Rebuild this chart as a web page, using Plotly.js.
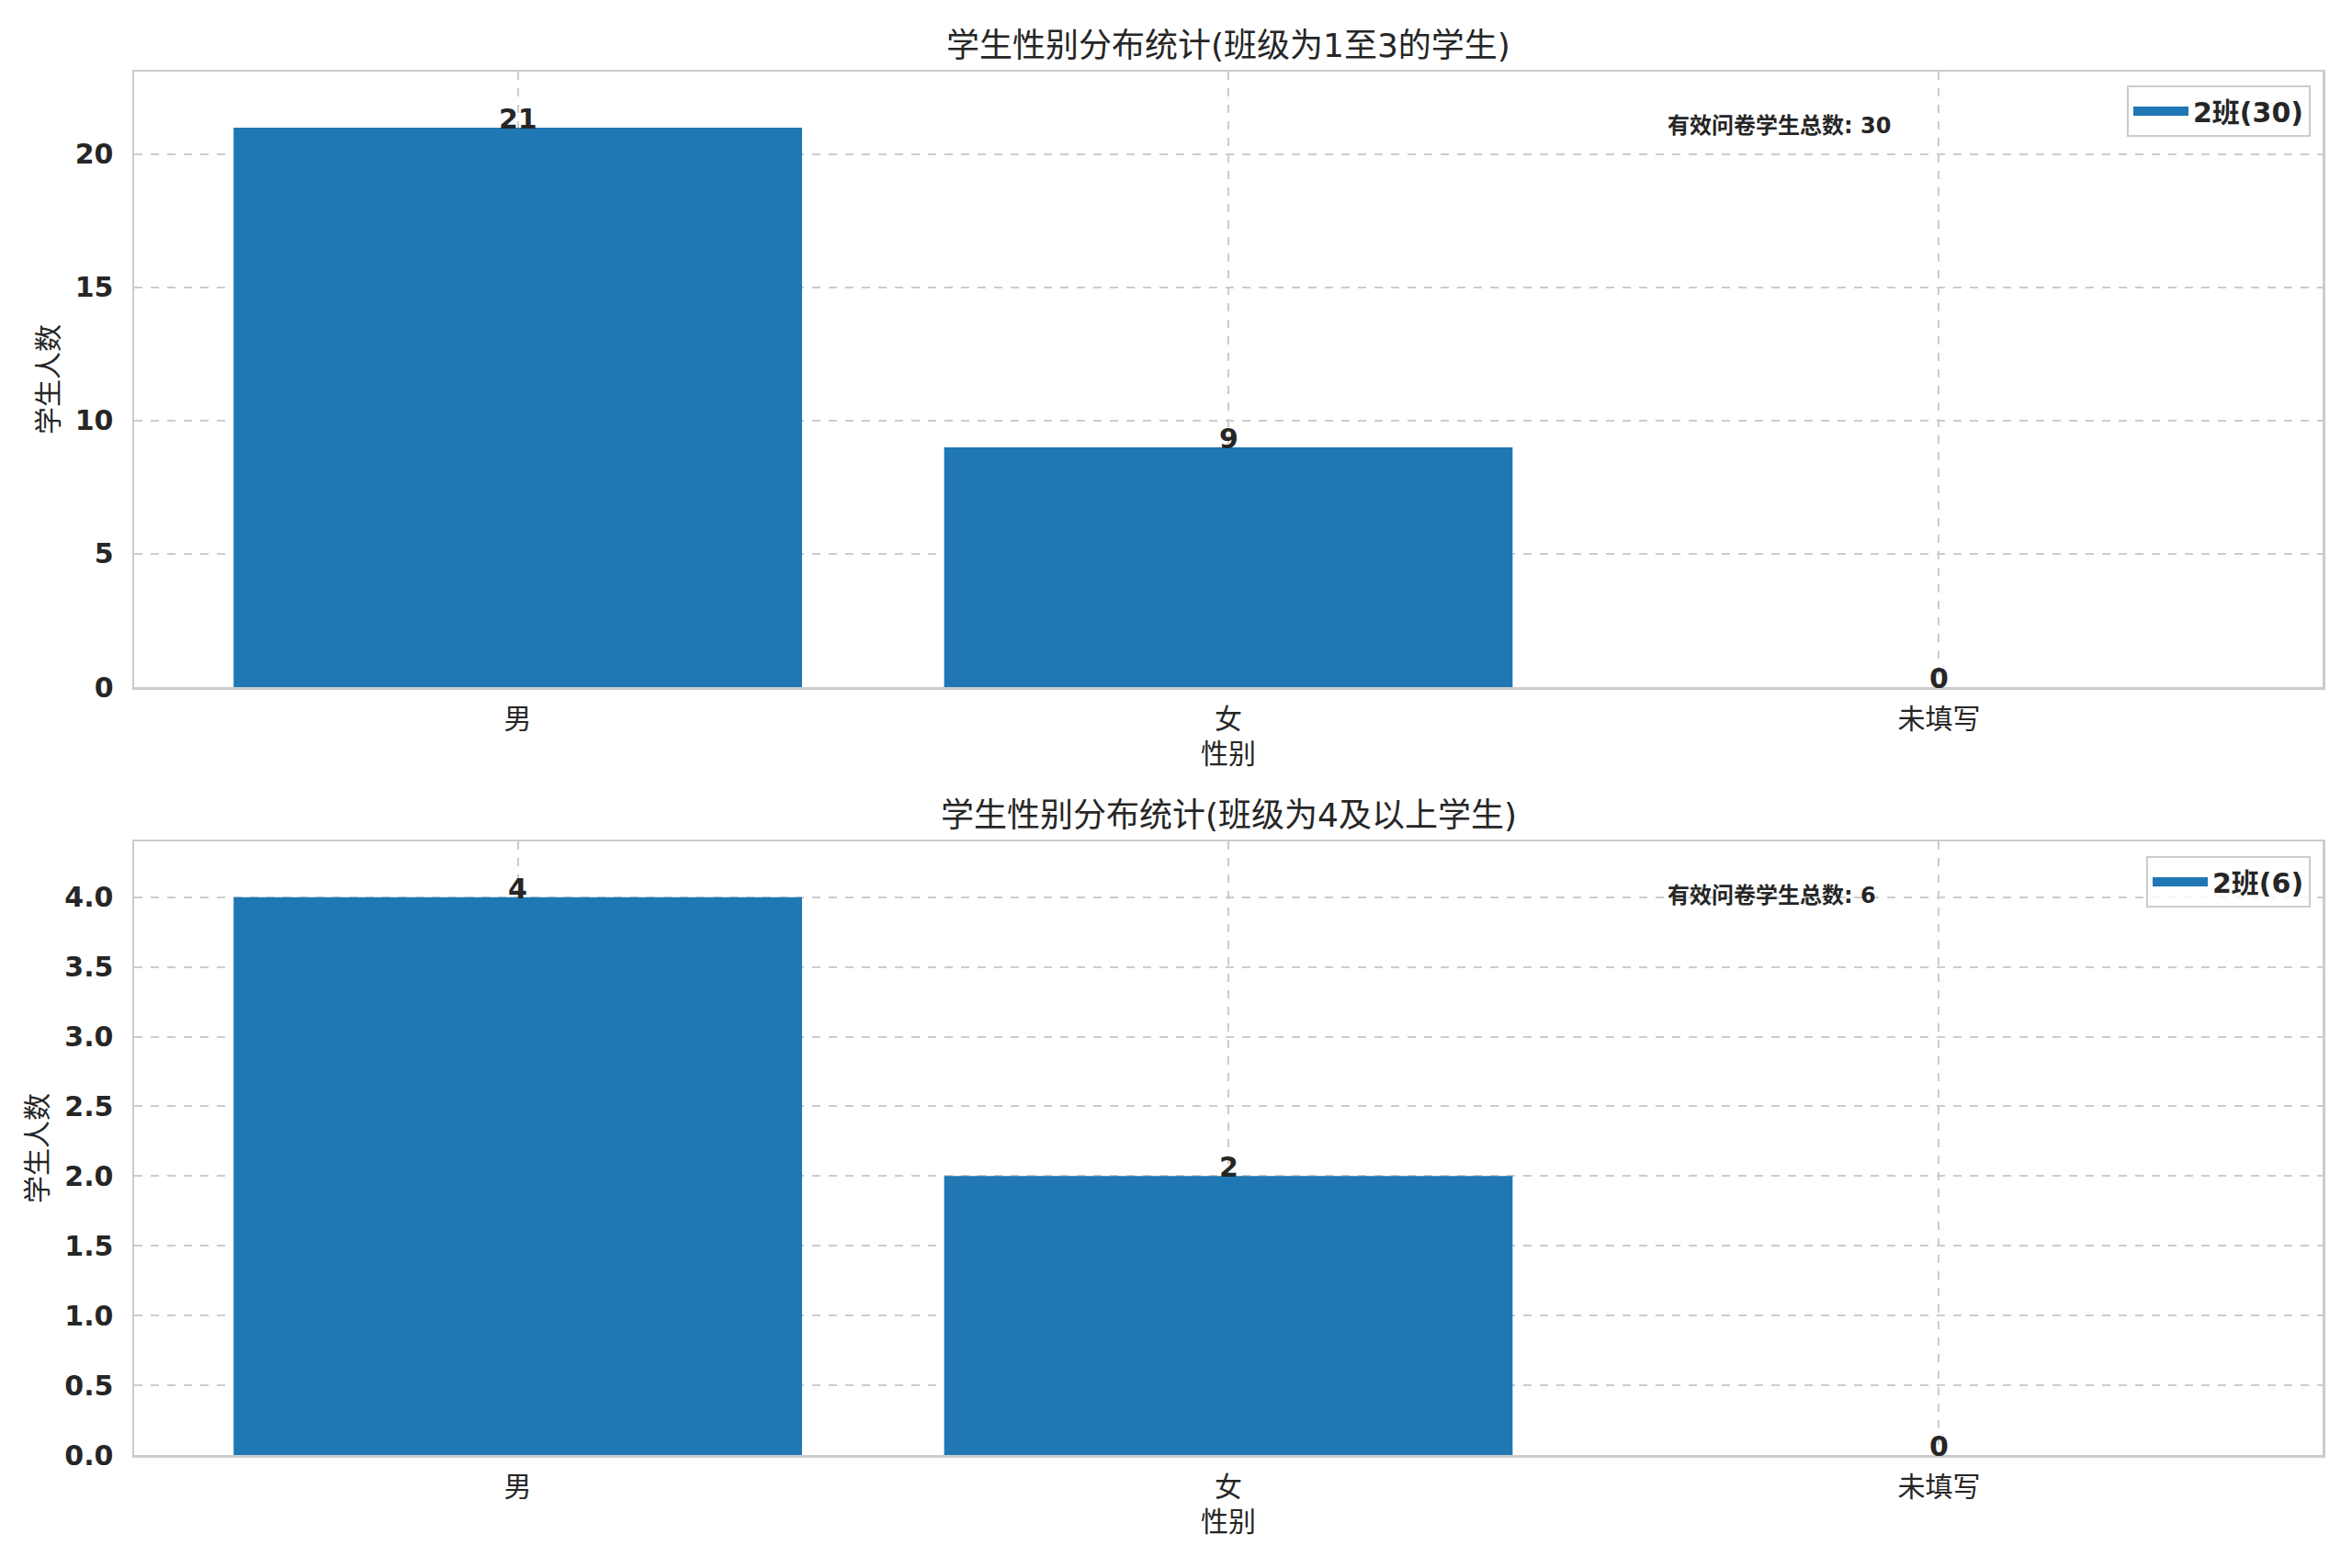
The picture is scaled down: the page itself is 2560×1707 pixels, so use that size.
<!DOCTYPE html>
<html>
<head>
<meta charset="utf-8">
<script src="https://cdn.plot.ly/plotly-3.0.1.min.js"></script>
<style>html,body{margin:0;padding:0;background:#fff;}#chart{width:2560px;height:1707px;}</style>
</head>
<body>
<div id="chart"></div>
<script>
// ---- data ----
const categories = ["男", "女", "未填写"];
const countsTop = [21, 9, 0];
const countsBottom = [4, 2, 0];
const legendTop = "2班(30)";
const legendBottom = "2班(6)";
const titleTop = "学生性别分布统计(班级为1至3的学生)";
const titleBottom = "学生性别分布统计(班级为4及以上学生)";
const noteTop = "有效问卷学生总数: 30";
const noteBottom = "有效问卷学生总数: 6";
const xLabel = "性别";
const yLabel = "学生人数";

const W = 2560, H = 1707;
const FAM = "DejaVu Sans, Noto Sans CJK SC, sans-serif";
const TXT = "#262626";
const BAR = "#1f77b4";
const GRID = "#cccccc";

const xDom = [146 / W, 2528 / W];
const yDomTop = [1 - 748 / H, 1 - 78 / H];
const yDomBot = [1 - 1584 / H, 1 - 916 / H];

const traces = [
  {type: "bar", x: categories, y: countsTop, name: legendTop, marker: {color: BAR},
   xaxis: "x", yaxis: "y", showlegend: false, hoverinfo: "none"},
  {type: "bar", x: categories, y: countsBottom, name: legendBottom, marker: {color: BAR},
   xaxis: "x2", yaxis: "y2", showlegend: false, hoverinfo: "none"},
  // legend entries (matplotlib-style wide patch)
  {type: "scatter", mode: "lines", x: [null], y: [null], name: legendTop,
   line: {color: BAR, width: 18}, xaxis: "x", yaxis: "y", legend: "legend", hoverinfo: "none"},
  {type: "scatter", mode: "lines", x: [null], y: [null], name: legendBottom,
   line: {color: BAR, width: 18}, xaxis: "x2", yaxis: "y2", legend: "legend2", hoverinfo: "none"}
];

function xaxisDef(anchor) {
  return {
    domain: xDom, anchor: anchor, type: "category", range: [-0.54, 2.54],
    showgrid: true, gridcolor: GRID, gridwidth: 2, griddash: "dash",
    showline: true, linecolor: GRID, linewidth: 2.5, mirror: true,
    ticks: "", ticklabelstandoff: 6, zeroline: false,
    tickfont: {family: FAM, size: 30, color: TXT},
    title: {text: xLabel, font: {family: FAM, size: 30, color: TXT}, standoff: 12}
  };
}
function yaxisDef(anchor, dom, range, dtick, fmt) {
  return {
    domain: dom, anchor: anchor, range: range, dtick: dtick, tick0: 0, tickformat: fmt,
    showgrid: true, gridcolor: GRID, gridwidth: 2, griddash: "dash",
    showline: true, linecolor: GRID, linewidth: 2.5, mirror: true,
    ticks: "", ticklabelstandoff: 14, zeroline: false,
    tickfont: {family: FAM, size: 30, color: TXT, weight: "bold"},
    title: {text: yLabel, font: {family: FAM, size: 30, color: TXT}, standoff: 10}
  };
}

const annotations = [];
function addBarLabels(vals, xref, yref) {
  categories.forEach((c, i) => {
    annotations.push({x: c, y: vals[i], xref: xref, yref: yref, text: String(vals[i]),
      showarrow: false, yanchor: "bottom", yshift: -10,
      font: {family: FAM, size: 30, color: TXT, weight: "bold"}});
  });
}
addBarLabels(countsTop, "x", "y");
addBarLabels(countsBottom, "x2", "y2");

const xMid = (xDom[0] + xDom[1]) / 2;
annotations.push({x: xMid, y: 1 - 49 / H, xref: "paper", yref: "paper", text: titleTop,
  showarrow: false, xanchor: "center", yanchor: "middle",
  font: {family: FAM, size: 36, color: TXT}});
annotations.push({x: xMid, y: 1 - 887 / H, xref: "paper", yref: "paper", text: titleBottom,
  showarrow: false, xanchor: "center", yanchor: "middle",
  font: {family: FAM, size: 36, color: TXT}});
annotations.push({x: 0.70, y: 0.912, xref: "x domain", yref: "y domain", text: noteTop,
  showarrow: false, xanchor: "left", yanchor: "middle",
  font: {family: FAM, size: 24, color: TXT, weight: "bold"}});
annotations.push({x: 0.70, y: 0.912, xref: "x2 domain", yref: "y2 domain", text: noteBottom,
  showarrow: false, xanchor: "left", yanchor: "middle",
  font: {family: FAM, size: 24, color: TXT, weight: "bold"}});

function legendDef(yTop) {
  return {x: 2515 / W, y: yTop, xanchor: "right", yanchor: "top",
    bgcolor: "rgba(255,255,255,0.8)", bordercolor: GRID, borderwidth: 2,
    itemwidth: 60,
    font: {family: FAM, size: 30, color: TXT, weight: "bold"}};
}

const layout = {
  width: W, height: H, margin: {l: 0, r: 0, t: 0, b: 0},
  paper_bgcolor: "#ffffff", plot_bgcolor: "#ffffff",
  bargap: 0.2, showlegend: true,
  xaxis: xaxisDef("y"), yaxis: yaxisDef("x", yDomTop, [0, 23.1], 5, "d"),
  xaxis2: xaxisDef("y2"), yaxis2: yaxisDef("x2", yDomBot, [0, 4.4], 0.5, ".1f"),
  legend: legendDef(1 - 93 / H), legend2: legendDef(1 - 932 / H),
  annotations: annotations
};

Plotly.newPlot("chart", traces, layout, {displayModeBar: false, staticPlot: true});
</script>
</body>
</html>
